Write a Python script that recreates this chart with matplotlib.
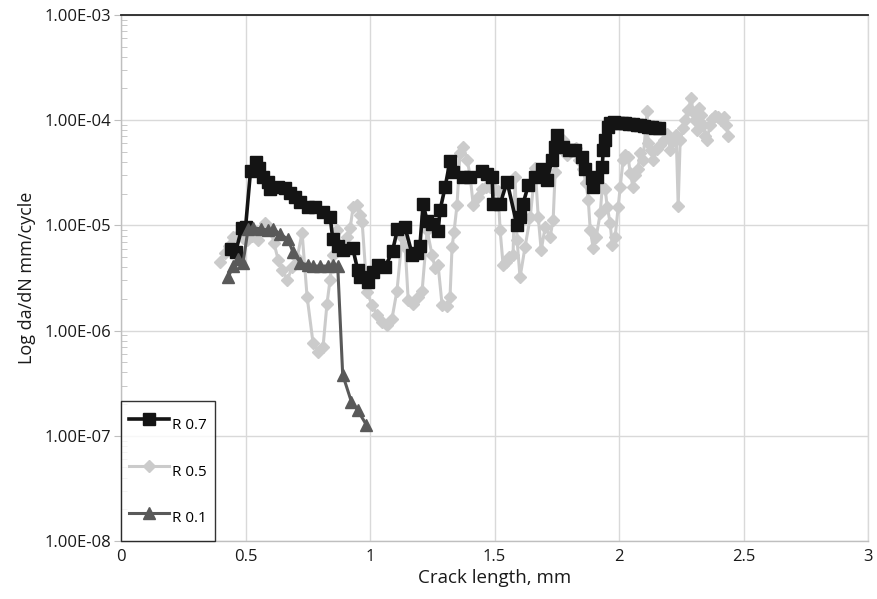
import matplotlib
matplotlib.use('Agg')
import matplotlib.pyplot as plt
from matplotlib.ticker import FuncFormatter, LogLocator, NullFormatter

plt.rcParams['font.family'] = ['Open Sans', 'DejaVu Sans']

# R 0.7 - crack length (mm) and da/dN (mm/cycle)
r07_x = [0.44, 0.46, 0.485, 0.50, 0.52, 0.54, 0.555, 0.57, 0.59, 0.60, 0.63, 0.66,
         0.68, 0.70, 0.72, 0.75, 0.78, 0.81, 0.84, 0.85, 0.87, 0.89, 0.93, 0.95,
         0.96, 0.99, 1.01, 1.03, 1.06, 1.09, 1.11, 1.14, 1.17, 1.19, 1.20, 1.213,
         1.229, 1.249, 1.273, 1.281, 1.301, 1.321, 1.333, 1.373, 1.402, 1.45, 1.47,
         1.49, 1.494, 1.522, 1.55, 1.59, 1.602, 1.614, 1.635, 1.663, 1.69, 1.71,
         1.731, 1.743, 1.751, 1.775, 1.80, 1.823, 1.851, 1.863, 1.892, 1.896, 1.912,
         1.932, 1.936, 1.944, 1.956, 1.964, 1.98, 1.995, 2.01, 2.025, 2.04, 2.055,
         2.07, 2.085, 2.10, 2.115, 2.13, 2.145, 2.16]
r07_y = [5.9e-6, 5.6e-6, 9.4e-6, 9.6e-6, 3.3e-5, 4.0e-5, 3.5e-5, 2.9e-5, 2.6e-5, 2.2e-5,
         2.3e-5, 2.25e-5, 2.05e-5, 1.85e-5, 1.65e-5, 1.5e-5, 1.5e-5, 1.35e-5, 1.2e-5,
         7.4e-6, 6.3e-6, 5.8e-6, 6.1e-6, 3.8e-6, 3.2e-6, 2.9e-6, 3.6e-6, 4.2e-6, 4.0e-6,
         5.7e-6, 9.2e-6, 9.6e-6, 5.2e-6, 5.5e-6, 6.4e-6, 1.6e-5, 1.1e-5, 1.02e-5, 8.8e-6,
         1.4e-5, 2.3e-5, 4.1e-5, 3.2e-5, 2.9e-5, 2.9e-5, 3.3e-5, 3.1e-5, 2.9e-5, 1.6e-5,
         1.6e-5, 2.6e-5, 1.0e-5, 1.2e-5, 1.6e-5, 2.4e-5, 2.9e-5, 3.4e-5, 2.7e-5, 4.2e-5,
         5.6e-5, 7.2e-5, 5.6e-5, 5.2e-5, 5.2e-5, 4.5e-5, 3.4e-5, 2.8e-5, 2.3e-5, 2.9e-5,
         3.6e-5, 5.2e-5, 6.5e-5, 8.6e-5, 9.4e-5, 9.6e-5, 9.5e-5, 9.4e-5, 9.3e-5, 9.2e-5,
         9.1e-5, 9.0e-5, 8.9e-5, 8.8e-5, 8.7e-5, 8.6e-5, 8.5e-5, 8.4e-5]

# R 0.5
r05_x = [0.398, 0.418, 0.434, 0.450, 0.470, 0.490, 0.506, 0.526, 0.550, 0.566, 0.578,
         0.594, 0.606, 0.614, 0.631, 0.647, 0.667, 0.687, 0.707, 0.727, 0.747, 0.771,
         0.791, 0.811, 0.827, 0.839, 0.851, 0.867, 0.880, 0.896, 0.908, 0.920, 0.932,
         0.948, 0.960, 0.968, 0.988, 1.008, 1.028, 1.048, 1.068, 1.088, 1.108, 1.129,
         1.141, 1.153, 1.173, 1.193, 1.209, 1.229, 1.249, 1.261, 1.273, 1.289, 1.309,
         1.321, 1.329, 1.337, 1.349, 1.361, 1.373, 1.390, 1.402, 1.414, 1.434, 1.450,
         1.466, 1.482, 1.498, 1.514, 1.522, 1.534, 1.546, 1.558, 1.574, 1.582, 1.590,
         1.602, 1.622, 1.643, 1.663, 1.675, 1.687, 1.703, 1.723, 1.735, 1.743, 1.755,
         1.763, 1.775, 1.791, 1.811, 1.827, 1.839, 1.855, 1.867, 1.876, 1.884, 1.896,
         1.908, 1.924, 1.932, 1.944, 1.952, 1.964, 1.972, 1.984, 1.996, 2.004, 2.016,
         2.024, 2.036, 2.044, 2.056, 2.064, 2.076, 2.084, 2.096, 2.112, 2.116, 2.129,
         2.137, 2.153, 2.165, 2.181, 2.193, 2.205, 2.217, 2.229, 2.237, 2.245, 2.257,
         2.265, 2.277, 2.289, 2.297, 2.305, 2.313, 2.321, 2.329, 2.337, 2.345, 2.353,
         2.365, 2.373, 2.386, 2.398, 2.410, 2.422, 2.430, 2.438]
r05_y = [4.5e-6, 5.5e-6, 6.4e-6, 7.8e-6, 8.1e-6, 7.6e-6, 7.3e-6, 7.9e-6, 7.3e-6, 9.0e-6,
         1.05e-5, 9.4e-6, 8.7e-6, 6.8e-6, 4.7e-6, 3.8e-6, 3.0e-6, 4.0e-6, 4.9e-6, 8.5e-6,
         2.1e-6, 7.6e-7, 6.3e-7, 7.0e-7, 1.8e-6, 3.0e-6, 5.2e-6, 9.0e-6, 6.1e-6, 5.8e-6,
         7.8e-6, 9.4e-6, 1.5e-5, 1.56e-5, 1.26e-5, 1.08e-5, 2.3e-6, 1.75e-6, 1.4e-6, 1.2e-6,
         1.13e-6, 1.3e-6, 2.4e-6, 7.8e-6, 6.2e-6, 1.95e-6, 1.8e-6, 2.1e-6, 2.4e-6, 9.0e-6,
         5.2e-6, 3.9e-6, 4.2e-6, 1.75e-6, 1.7e-6, 2.1e-6, 6.2e-6, 8.7e-6, 1.56e-5, 4.9e-5,
         5.6e-5, 4.2e-5, 2.9e-5, 1.56e-5, 1.86e-5, 2.2e-5, 2.3e-5, 2.3e-5, 2.2e-5, 2.1e-5,
         9.0e-6, 4.2e-6, 4.5e-6, 5.0e-6, 5.2e-6, 2.9e-5, 7.3e-6, 3.2e-6, 6.2e-6, 1.2e-5,
         3.5e-5, 1.2e-5, 5.8e-6, 9.7e-6, 7.8e-6, 1.13e-5, 3.2e-5, 6.5e-5, 5.6e-5, 6.5e-5,
         4.7e-5, 5.2e-5, 5.4e-5, 4.2e-5, 3.4e-5, 2.5e-5, 1.74e-5, 9.0e-6, 6.1e-6, 7.8e-6,
         1.3e-5, 2.3e-5, 2.2e-5, 1.5e-5, 1.05e-5, 6.5e-6, 7.8e-6, 1.5e-5, 2.3e-5, 4.2e-5,
         4.7e-5, 4.5e-5, 3.15e-5, 2.3e-5, 3.0e-5, 3.4e-5, 4.9e-5, 4.2e-5, 1.22e-4, 6.1e-5,
         5.2e-5, 4.2e-5, 5.3e-5, 5.8e-5, 6.5e-5, 7.4e-5, 5.2e-5, 6.3e-5, 7.2e-5, 1.53e-5,
         6.5e-5, 8.4e-5, 1.0e-4, 1.25e-4, 1.62e-4, 1.2e-4, 1.0e-4, 8.1e-5, 1.3e-4, 1.12e-4,
         9.0e-5, 7.1e-5, 6.5e-5, 9.0e-5, 1.03e-4, 1.1e-4, 1.07e-4, 1.0e-4, 1.07e-4, 9.0e-5,
         7.1e-5]

# R 0.1
r01_x = [0.43, 0.45, 0.47, 0.49, 0.51, 0.53, 0.56, 0.59, 0.61, 0.64, 0.67, 0.69, 0.72,
         0.75, 0.77, 0.80, 0.83, 0.85, 0.87, 0.89, 0.925, 0.95, 0.985]
r01_y = [3.2e-6, 4.1e-6, 4.8e-6, 4.4e-6, 9.2e-6, 9.5e-6, 9.3e-6, 9.0e-6, 9.2e-6, 8.2e-6,
         7.4e-6, 5.6e-6, 4.4e-6, 4.2e-6, 4.1e-6, 4.1e-6, 4.1e-6, 4.2e-6, 4.1e-6, 3.8e-7,
         2.1e-7, 1.75e-7, 1.27e-7]

fig = plt.figure(figsize=(8.77, 5.99), dpi=100)
ax = fig.add_axes([0.138, 0.097, 0.852, 0.878])

ax.plot(r07_x, r07_y, color='#141414', lw=2.6, marker='s', ms=8, zorder=3, label='R 0.7')
ax.plot(r05_x, r05_y, color='#cbcbcb', lw=2.2, marker='D', ms=6.5, zorder=2, label='R 0.5')
ax.plot(r01_x, r01_y, color='#595959', lw=2.2, marker='^', ms=8, zorder=4, label='R 0.1')

ax.set_yscale('log')
ax.set_xlim(0, 3)
ax.set_ylim(1e-8, 1e-3)
ax.set_xticks([0, 0.5, 1, 1.5, 2, 2.5, 3])
ax.xaxis.set_major_formatter(FuncFormatter(lambda v, p: f"{v:g}"))
ax.yaxis.set_major_locator(LogLocator(base=10, numticks=10))
ax.yaxis.set_major_formatter(FuncFormatter(lambda v, p: f"{v:.2E}"))
ax.yaxis.set_minor_locator(LogLocator(base=10, subs=range(2, 10), numticks=20))
ax.yaxis.set_minor_formatter(NullFormatter())

ax.grid(True, which='major', color='#d9d9d9', lw=1.0, zorder=0)
ax.set_axisbelow(True)

for side in ['left', 'bottom', 'right']:
    ax.spines[side].set_color('#bfbfbf')
    ax.spines[side].set_linewidth(1.0)
ax.spines['right'].set_color('#d9d9d9')
ax.spines['top'].set_color('#262626')
ax.spines['top'].set_linewidth(1.3)

ax.tick_params(axis='x', length=0, pad=6, labelsize=12, labelcolor='#1a1a1a')
ax.tick_params(axis='y', which='major', length=5, direction='out', color='#bfbfbf',
               pad=2, labelsize=12, labelcolor='#1a1a1a')
ax.tick_params(axis='y', which='minor', length=4, direction='in', color='#bfbfbf')

ax.set_xlabel('Crack length, mm', fontsize=13.5, color='#1a1a1a', labelpad=3)
ax.set_ylabel('Log da/dN mm/cycle', fontsize=13, color='#1a1a1a', labelpad=6)

leg = ax.legend(loc='lower left', bbox_to_anchor=(0, 0), borderaxespad=0,
                fontsize=11, frameon=True, fancybox=False, edgecolor='#000000',
                borderpad=0.55, labelspacing=1.13, handleheight=2.6,
                handlelength=2.6, handletextpad=0.2)
leg.get_frame().set_linewidth(1.0)

fig.savefig('out.png', dpi=100)
